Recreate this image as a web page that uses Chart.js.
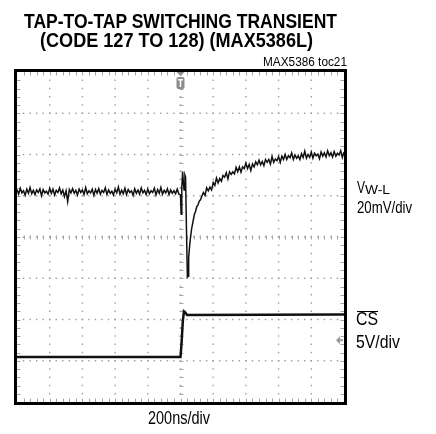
<!DOCTYPE html>
<html>
<head>
<meta charset="utf-8">
<script src="https://cdn.jsdelivr.net/npm/chart.js@4/dist/chart.umd.min.js"></script>
<style>
  body { margin: 0; background: #fff; }
  #page { position: relative; width: 436px; height: 434px; overflow: hidden; font-family: "Liberation Sans", Arial, sans-serif; }
  #scope { position: absolute; left: 0; top: 0; }
  .txt { position: absolute; white-space: nowrap; transform-origin: 0 0; color: #000; }
  .title { font-weight: bold; font-size: 20px; line-height: 20px; }
</style>
</head>
<body>
<div id="page">
  <canvas id="scope" width="436" height="434"></canvas>
  <div class="txt title" style="left:24px;top:11px" data-w="313">TAP-TO-TAP SWITCHING TRANSIENT</div>
  <div class="txt title" style="left:40px;top:29.5px" data-w="273">(CODE 127 TO 128) (MAX5386L)</div>
  <div class="txt" style="left:263px;top:55.5px;font-size:12.5px;line-height:12.5px" data-w="84">MAX5386 toc21</div>
  <div class="txt" style="left:357px;top:180px;font-size:16px;line-height:16px" data-w="8">V</div>
  <div class="txt" style="left:365px;top:183.5px;font-size:12.5px;line-height:12.5px" data-w="25">W-L</div>
  <div class="txt" style="left:357px;top:198.5px;font-size:17px;line-height:17px" data-w="55">20mV/div</div>
  <div style="position:absolute;left:357px;top:310.5px;width:21px;height:1.3px;background:#000"></div>
  <div class="txt" style="left:356px;top:311px;font-size:17.5px;line-height:17.5px" data-w="22">CS</div>
  <div class="txt" style="left:356px;top:334px;font-size:17.5px;line-height:17.5px" data-w="44">5V/div</div>
  <div class="txt" style="left:148px;top:410px;font-size:17.5px;line-height:17.5px" data-w="62">200ns/div</div>
</div>
<script>
// time axis: 0..2000 ns, 200 ns/div, trigger at 1000 ns
// levels are in screen divisions (-4..4)
const timeDivs = 10, levelDivs = 8;
const nsPerDiv = 200;
const sampleNs = 10;

// V W-L before the code change, t = 0 .. 990 ns
const vwlPre = [
  1.15,1.04,1.18,1.07,1.12,1.01,1.16,1.06,1.20,1.05,
  1.13,1.03,1.14,1.08,1.17,1.00,1.15,1.07,1.11,1.04,
  1.18,1.06,1.16,1.02,1.13,1.08,1.19,1.05,1.14,0.98,
  1.12,0.86,1.15,1.07,1.17,1.06,1.13,1.02,1.16,1.08,
  1.14,1.03,1.20,1.05,1.12,1.07,1.16,1.01,1.15,1.06,
  1.17,1.04,1.13,1.08,1.19,1.03,1.14,1.06,1.11,1.02,
  1.16,1.07,1.21,1.04,1.13,1.05,1.18,1.03,1.15,1.08,
  1.12,1.01,1.17,1.06,1.14,1.04,1.19,1.07,1.13,1.03,
  1.16,1.05,1.12,1.08,1.18,1.02,1.15,1.06,1.20,1.04,
  1.13,1.07,1.17,1.03,1.14,1.06,1.12,1.05,1.16,1.04
];
// the glitch around the trigger
const vwlEdgeTime  = [1000,1004,1008,1013,1018,1022,1027,1031,1036,1042,1047,1050,1055,1060,1068,1075,1085,1092,1099,1107,1115,1122,1130];
const vwlEdgeLevel = [1.02,0.55,1.20,1.58,1.30,1.14,1.50,1.45,0.30,-0.97,-0.95,-0.50,-0.25,-0.05,0.20,0.34,0.55,0.62,0.73,0.78,0.87,0.90,0.98];
// settling, t = 1140 .. 2000 ns
const vwlPostStart = 1140;
const vwlPost = [
  1.08,1.01,1.19,1.12,1.21,1.14,1.32,1.25,1.43,1.31,
  1.42,1.35,1.49,1.45,1.56,1.41,1.58,1.52,1.58,1.53,
  1.69,1.58,1.70,1.57,1.70,1.66,1.79,1.66,1.76,1.61,
  1.77,1.70,1.82,1.75,1.86,1.75,1.83,1.73,1.88,1.81,
  1.88,1.77,1.95,1.81,1.89,1.85,1.95,1.81,1.96,1.88,
  2.00,1.88,1.97,1.92,2.04,1.88,1.99,1.91,1.97,1.88,
  2.02,1.93,2.08,1.91,2.00,1.93,2.06,1.91,2.03,1.97,
  2.01,1.90,2.06,1.96,2.04,1.94,2.09,1.97,2.04,1.94,
  2.07,1.96,2.03,1.99,2.09,1.93,2.06
];
// CS logic edge
const csTime  = [0, 1000, 1006, 1014, 1021, 1028, 1040, 2000];
const csLevel = [-2.91, -2.91, -2.60, -2.05, -1.80, -1.82, -1.89, -1.88];
const triggerNs = 1000;
const csGroundLevel = -2.5;

function points(times, levels) {
  return levels.map((v, i) => ({ x: times[i], y: v }));
}
function stepped(start, levels) {
  return levels.map((v, i) => ({ x: start + i * sampleNs, y: v }));
}
const vwlData = stepped(0, vwlPre)
  .concat(points(vwlEdgeTime, vwlEdgeLevel))
  .concat(stepped(vwlPostStart, vwlPost));
const csData = points(csTime, csLevel);

// scope screen: dotted graticule, tick marks, frame, markers
const graticule = {
  id: 'graticule',
  beforeDatasetsDraw(chart) {
    const { ctx, chartArea: a, scales: { x, y } } = chart;
    const X = t => x.getPixelForValue(t), Y = v => y.getPixelForValue(v);
    ctx.save();
    ctx.fillStyle = '#999';
    for (let i = 1; i < timeDivs; i++) {
      const px = X(i * nsPerDiv);
      for (let k = 1; k < levelDivs * 5; k++) ctx.fillRect(px - 0.7, Y(-4 + k / 5) - 0.7, 1.4, 1.4);
    }
    for (let j = 1; j < levelDivs; j++) {
      const py = Y(-4 + j);
      for (let k = 1; k < timeDivs * 5; k++) ctx.fillRect(X(k * nsPerDiv / 5) - 0.7, py - 0.7, 1.4, 1.4);
    }
    ctx.strokeStyle = '#a6a6a6';
    ctx.lineWidth = 1;
    ctx.beginPath();
    const cx = Math.round(X(triggerNs)) + 0.5, cy = Math.round(Y(0)) + 0.5;
    for (let k = 1; k < timeDivs * 5; k++) {
      const px = Math.round(X(k * nsPerDiv / 5)) + 0.5;
      ctx.moveTo(px, cy - 2); ctx.lineTo(px, cy + 2);
      ctx.moveTo(px, a.top); ctx.lineTo(px, a.top + 3.5);
      ctx.moveTo(px, a.bottom); ctx.lineTo(px, a.bottom - 3.5);
    }
    for (let k = 1; k < levelDivs * 5; k++) {
      const py = Math.round(Y(-4 + k / 5)) + 0.5;
      ctx.moveTo(cx - 2, py); ctx.lineTo(cx + 2, py);
      ctx.moveTo(a.left, py); ctx.lineTo(a.left + 3.5, py);
      ctx.moveTo(a.right, py); ctx.lineTo(a.right - 3.5, py);
    }
    ctx.stroke();
    ctx.restore();
  },
  afterDatasetsDraw(chart) {
    const { ctx, chartArea: a, scales: { x, y } } = chart;
    ctx.save();
    // trigger flag
    const tx = x.getPixelForValue(triggerNs);
    ctx.fillStyle = '#8c8c8c';
    ctx.beginPath();
    ctx.moveTo(tx - 4, a.top); ctx.lineTo(tx + 4, a.top); ctx.lineTo(tx, a.top + 4);
    ctx.fill();
    ctx.beginPath();
    ctx.roundRect(tx - 4, a.top + 5, 8, 12, 2);
    ctx.fill();
    ctx.fillStyle = '#fff';
    ctx.fillRect(tx - 2.5, a.top + 7, 5, 1.5);
    ctx.fillRect(tx - 0.75, a.top + 7, 1.5, 8);
    // CS ground arrow at right edge
    const gy = y.getPixelForValue(csGroundLevel);
    ctx.fillStyle = '#9a9a9a';
    ctx.beginPath();
    ctx.moveTo(a.right - 8, gy); ctx.lineTo(a.right - 4, gy - 4); ctx.lineTo(a.right - 4, gy + 4);
    ctx.fill();
    ctx.fillRect(a.right - 4, gy - 1, 3, 2);
    // frame
    ctx.strokeStyle = '#000';
    ctx.lineWidth = 3;
    ctx.strokeRect(a.left - 1.5, a.top - 1.5, a.right - a.left + 3, a.bottom - a.top + 3);
    ctx.restore();
  }
};

new Chart(document.getElementById('scope'), {
  type: 'line',
  data: {
    datasets: [
      { label: 'VW-L', data: vwlData, borderColor: '#111', borderWidth: 1.5, pointRadius: 0, tension: 0 },
      { label: 'CS', data: csData, borderColor: '#111', borderWidth: 2.5, pointRadius: 0, tension: 0 }
    ]
  },
  options: {
    responsive: false,
    animation: false,
    layout: { padding: { left: 17, top: 72, right: 92, bottom: 32 } },
    plugins: { legend: { display: false }, tooltip: { enabled: false } },
    scales: {
      x: { type: 'linear', min: 0, max: timeDivs * nsPerDiv, display: false },
      y: { type: 'linear', min: -levelDivs / 2, max: levelDivs / 2, display: false }
    }
  },
  plugins: [graticule]
});

// squeeze text to the narrow face of the original
document.querySelectorAll('.txt').forEach(el => {
  const w = el.getBoundingClientRect().width;
  el.style.transform = 'scaleX(' + (el.dataset.w / w) + ')';
});
</script>
</body>
</html>
